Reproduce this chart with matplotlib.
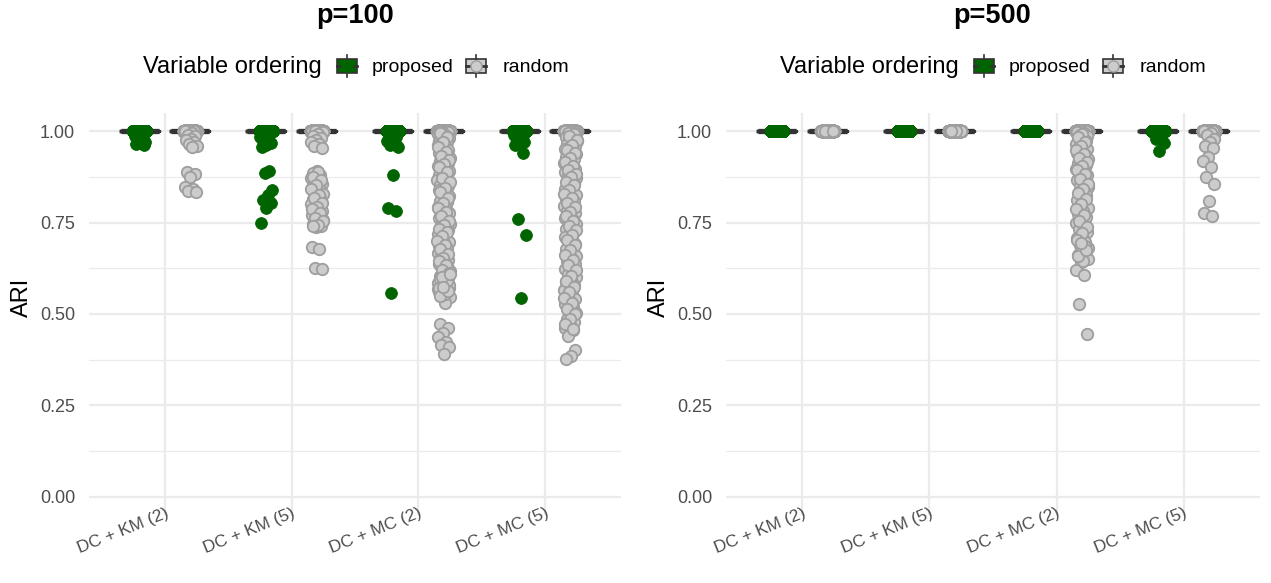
import numpy as np
import matplotlib
matplotlib.use("Agg")
import matplotlib.pyplot as plt
from matplotlib.patches import Rectangle
from matplotlib.lines import Line2D

plt.rcParams['font.family'] = ['Liberation Sans', 'DejaVu Sans']

# ---------------------------------------------------------------- data
methods = ["DC + KM (2)", "DC + KM (5)", "DC + MC (2)", "DC + MC (5)"]
orderings = ["proposed", "random"]
panel_titles = ["p=100", "p=500"]
n_runs = 800  # replicates per method / ordering; runs not listed below scored ARI = 1

# ARI values below 1, p = 100
p100_proposed = [
    [0.995, 0.99, 0.986, 0.981, 0.976, 0.972, 0.968, 0.965, 0.962],
    [0.996, 0.99, 0.984, 0.979, 0.973, 0.968, 0.963, 0.958, 0.89, 0.887,
     0.84, 0.826, 0.813, 0.803, 0.79, 0.749],
    [0.996, 0.99, 0.985, 0.979, 0.973, 0.967, 0.962, 0.958, 0.88, 0.79,
     0.781, 0.557],
    [0.995, 0.99, 0.984, 0.978, 0.972, 0.967, 0.962, 0.94, 0.76, 0.716,
     0.544],
]
p100_random = [
    [0.996, 0.991, 0.986, 0.98, 0.975, 0.97, 0.966, 0.961, 0.957, 0.889,
     0.884, 0.876, 0.848, 0.843, 0.837, 0.833],
    [0.997, 0.992, 0.986, 0.981, 0.975, 0.97, 0.964, 0.959, 0.955, 0.891,
     0.886, 0.88, 0.877, 0.871, 0.864, 0.861, 0.855, 0.848, 0.844, 0.839,
     0.833, 0.828, 0.822, 0.815, 0.811, 0.806, 0.8, 0.796, 0.789, 0.783,
     0.779, 0.772, 0.768, 0.761, 0.757, 0.752, 0.746, 0.741, 0.737, 0.682,
     0.679, 0.627, 0.622, 0.888, 0.874, 0.867, 0.852, 0.841, 0.826, 0.818,
     0.803, 0.792, 0.786, 0.775, 0.764, 0.754, 0.743, 0.74],
    [0.998, 0.995, 0.992, 0.988, 0.985, 0.981, 0.977, 0.974, 0.97, 0.966,
     0.962, 0.959, 0.954, 0.949, 0.946, 0.941, 0.937, 0.931, 0.927, 0.924,
     0.918, 0.913, 0.909, 0.905, 0.899, 0.894, 0.891, 0.886, 0.879, 0.876,
     0.87, 0.866, 0.859, 0.853, 0.849, 0.843, 0.838, 0.833, 0.826, 0.822,
     0.815, 0.809, 0.806, 0.799, 0.793, 0.787, 0.783, 0.776, 0.771, 0.764,
     0.759, 0.752, 0.747, 0.741, 0.735, 0.729, 0.722, 0.718, 0.711, 0.705,
     0.698, 0.693, 0.686, 0.681, 0.674, 0.668, 0.661, 0.657, 0.649, 0.643,
     0.637, 0.631, 0.624, 0.617, 0.611, 0.604, 0.599, 0.592, 0.586, 0.581,
     0.577, 0.571, 0.566, 0.561, 0.556, 0.551, 0.547, 0.53, 0.474, 0.461,
     0.447, 0.436, 0.424, 0.416, 0.409, 0.391,
     0.996, 0.983, 0.972, 0.958, 0.944, 0.933, 0.921, 0.911, 0.902, 0.888,
     0.872, 0.861, 0.845, 0.835, 0.818, 0.803, 0.79, 0.779, 0.767, 0.754,
     0.744, 0.732, 0.725, 0.714, 0.701, 0.69, 0.677, 0.664, 0.653, 0.646,
     0.634, 0.62, 0.613, 0.602, 0.595, 0.583, 0.574, 0.568, 0.559, 0.553,
     0.58, 0.565, 0.57, 0.59, 0.6, 0.61, 0.555, 0.548, 0.562, 0.575],
    [0.998, 0.995, 0.991, 0.988, 0.984, 0.98, 0.977, 0.973, 0.969, 0.965,
     0.961, 0.956, 0.952, 0.948, 0.943, 0.938, 0.934, 0.929, 0.924, 0.919,
     0.914, 0.909, 0.903, 0.898, 0.893, 0.888, 0.882, 0.877, 0.871, 0.866,
     0.86, 0.855, 0.849, 0.843, 0.837, 0.831, 0.826, 0.82, 0.814, 0.808,
     0.802, 0.796, 0.789, 0.783, 0.777, 0.771, 0.764, 0.758, 0.751, 0.745,
     0.738, 0.732, 0.725, 0.719, 0.712, 0.706, 0.699, 0.692, 0.685, 0.679,
     0.672, 0.665, 0.658, 0.651, 0.644, 0.637, 0.63, 0.623, 0.616, 0.609,
     0.601, 0.594, 0.587, 0.579, 0.572, 0.565, 0.557, 0.55, 0.542, 0.535,
     0.527, 0.519, 0.511, 0.503, 0.495, 0.487, 0.479, 0.471, 0.463, 0.455,
     0.441, 0.402, 0.386, 0.377,
     0.993, 0.986, 0.975, 0.963, 0.95, 0.941, 0.927, 0.916, 0.906, 0.895,
     0.884, 0.874, 0.862, 0.852, 0.84, 0.828, 0.817, 0.805, 0.793, 0.78,
     0.768, 0.755, 0.742, 0.729, 0.716, 0.703, 0.689, 0.676, 0.662, 0.648,
     0.634, 0.62, 0.605, 0.59, 0.575, 0.56, 0.545, 0.53, 0.515, 0.5,
     0.485, 0.472, 0.46],
]

# ARI values below 1, p = 500
p500_proposed = [
    [],
    [],
    [],
    [0.99, 0.98, 0.968, 0.947],
]
p500_random = [
    [],
    [],
    [0.998, 0.994, 0.99, 0.986, 0.982, 0.978, 0.974, 0.969, 0.965, 0.961,
     0.956, 0.951, 0.946, 0.941, 0.936, 0.931, 0.925, 0.92, 0.914, 0.909,
     0.903, 0.897, 0.891, 0.885, 0.879, 0.873, 0.866, 0.86, 0.853, 0.847,
     0.84, 0.833, 0.826, 0.819, 0.812, 0.804, 0.797, 0.789, 0.782, 0.774,
     0.766, 0.758, 0.75, 0.742, 0.733, 0.725, 0.716, 0.707, 0.698, 0.689,
     0.68, 0.671, 0.661, 0.652, 0.643, 0.62, 0.607, 0.527, 0.445,
     0.992, 0.984, 0.971, 0.959, 0.948, 0.938, 0.927, 0.917, 0.906, 0.894,
     0.882, 0.87, 0.856, 0.843, 0.83, 0.816, 0.801, 0.786, 0.771, 0.755,
     0.739, 0.721, 0.703, 0.685, 0.667, 0.65, 0.645, 0.66, 0.675, 0.695],
    [0.995, 0.99, 0.98, 0.97, 0.961, 0.955, 0.93, 0.92, 0.901, 0.875,
     0.857, 0.81, 0.775, 0.768],
]

panels = [(p100_proposed, p100_random), (p500_proposed, p500_random)]

# --------------------------------------------------------------- style
W, H = 1271, 583
GREEN = "#006400"
GREY_FILL = "#CCCCCC"
GREY_EDGE = "#9E9E9E"
BOX_COL = "#333333"
GRID = "#EBEBEB"
TICK_COL = "#4D4D4D"
dodge = 0.2
box_w = 0.3
jit = 0.05


def px(x, y):
    return x / W, 1 - y / H


def full_runs(below):
    return np.concatenate([np.ones(n_runs - len(below)), np.asarray(below, float)])


def jitter(n, phase):
    k = np.arange(n)
    return ((k * 0.6180339887 + phase) % 1.0 - 0.5) * 2 * jit


fig = plt.figure(figsize=(W / 100, H / 100), dpi=100)
axes_px = [(89, 532), (726, 534)]
top_px, bot_px = 113, 515

for pi, ((prop, rand), (x0, wpx)) in enumerate(zip(panels, axes_px)):
    l, b = x0 / W, 1 - bot_px / H
    ax = fig.add_axes([l, b, wpx / W, (bot_px - top_px) / H])
    ax.set_xlim(0.4, 4.6)
    ax.set_ylim(-0.05, 1.05)
    for s in ax.spines.values():
        s.set_visible(False)
    ax.set_yticks([0, 0.25, 0.5, 0.75, 1.0])
    ax.set_yticks([0.125, 0.375, 0.625, 0.875], minor=True)
    ax.set_yticklabels(["0.00", "0.25", "0.50", "0.75", "1.00"])
    ax.set_xticks(range(1, 5))
    ax.set_xticklabels(methods, rotation=22, ha="right", va="top",
                       rotation_mode="anchor")
    ax.tick_params(axis="both", which="both", length=0, colors=TICK_COL,
                   labelsize=13)
    ax.tick_params(axis="x", labelsize=12.5, pad=-7)
    ax.tick_params(axis="y", pad=10)
    ax.grid(which="major", color=GRID, lw=1.6)
    ax.grid(which="minor", axis="y", color=GRID, lw=0.9)
    ax.set_axisbelow(True)

    groups = []
    for mi in range(4):
        groups.append((mi + 1 - dodge, full_runs(prop[mi]), "proposed"))
        groups.append((mi + 1 + dodge, full_runs(rand[mi]), "random"))

    ax.boxplot([g[1] for g in groups], positions=[g[0] for g in groups],
               widths=box_w, showfliers=False, showcaps=False, whis=1.5,
               boxprops=dict(color=BOX_COL, lw=2.5),
               medianprops=dict(color=BOX_COL, lw=3.8),
               whiskerprops=dict(color=BOX_COL, lw=2.5),
               manage_ticks=False, zorder=2)

    for gi, (xc, vals, kind) in enumerate(groups):
        xs = xc + jitter(len(vals), 0.13 * gi)
        if kind == "proposed":
            ax.scatter(xs, vals, s=72, facecolor=GREEN, edgecolor=GREEN,
                       lw=0.6, zorder=3)
        else:
            ax.scatter(xs, vals, s=68, facecolor=GREY_FILL,
                       edgecolor=GREY_EDGE, lw=1.3, zorder=3)

    shift = 637 * pi
    fig.text(*px(22 + shift, 297), "ARI", rotation=90, ha="center",
             va="center", fontsize=17)
    fig.text(*px(355 + shift, 16), panel_titles[pi], ha="center", va="center",
             fontsize=19.5, fontweight="bold")

    # legend: title, boxplot keys with point overlay, labels
    ly = 66
    fig.text(*px(143 + shift, ly + 1), "Variable ordering", ha="left",
             va="center", fontsize=17)
    for kx, tx, label, fc, mec in [(347, 372, "proposed", GREEN, GREEN),
                                   (476, 503, "random", GREY_FILL, GREY_EDGE)]:
        cx = kx + shift
        fig.add_artist(Rectangle(px(cx - 10, ly + 7), 20 / W, 14 / H,
                                 transform=fig.transFigure, facecolor=fc,
                                 edgecolor=BOX_COL, lw=1.2))
        for (ya, yb) in [(ly - 11, ly - 7), (ly + 7, ly + 11)]:
            fig.add_artist(Line2D([cx / W, cx / W], [1 - ya / H, 1 - yb / H],
                                  transform=fig.transFigure, color=BOX_COL,
                                  lw=1.2))
        fig.add_artist(Line2D([(cx - 10) / W, (cx + 10) / W],
                              [1 - ly / H, 1 - ly / H],
                              transform=fig.transFigure, color=BOX_COL, lw=2))
        fig.add_artist(Line2D([cx / W], [1 - ly / H], marker="o",
                              markersize=8, markerfacecolor=fc,
                              markeredgecolor=mec, transform=fig.transFigure,
                              linestyle="none"))
        fig.text(*px(tx + shift, ly + 1), label, ha="left", va="center",
                 fontsize=14)

fig.savefig("out.png", dpi=100)
